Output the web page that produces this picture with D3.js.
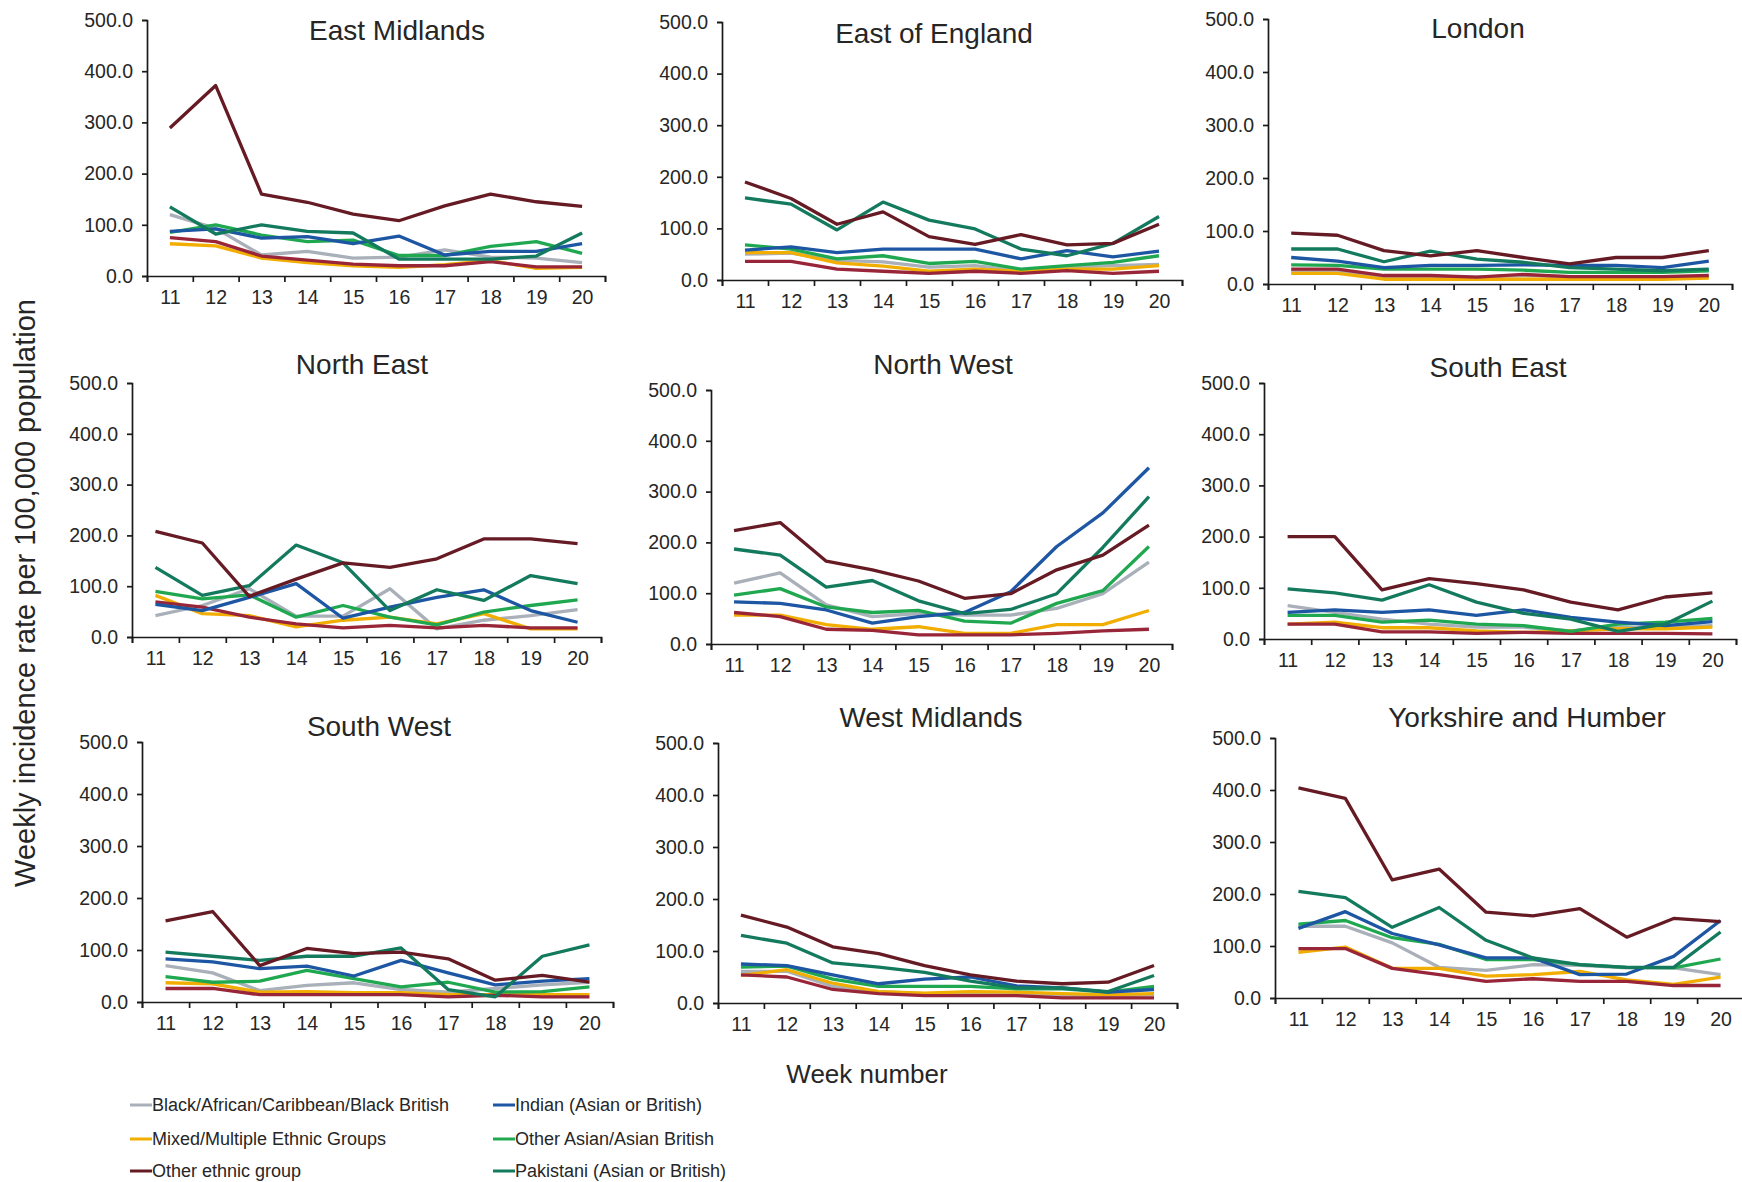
<!DOCTYPE html>
<html>
<head>
<meta charset="utf-8">
<script src="https://cdn.jsdelivr.net/npm/d3@7"></script>
<style>
	body { margin: 0; background: #fff; }
	svg { display: block; font-family: "Liberation Sans", Arial, sans-serif; }
</style>
</head>
<body>
<div id="chart"></div>
<script>
const weeks = [11, 12, 13, 14, 15, 16, 17, 18, 19, 20];
const yTicks = [0, 100, 200, 300, 400, 500];

// series order used by every region array below
const seriesNames = [
	"Black/African/Caribbean/Black British",
	"Indian (Asian or British)",
	"Mixed/Multiple Ethnic Groups",
	"Other Asian/Asian British",
	"Other ethnic group",
	"Pakistani (Asian or British)",
	"White"
];
const seriesColors = ["#a9b0b9", "#1d56a3", "#f2ae00", "#20a851", "#661a23", "#137a5d", "#992638"];
const legendNames = seriesNames.slice(0, 6);
const drawOrder = [0, 2, 6, 3, 1, 5, 4];

const regionNames = ["East Midlands", "East of England", "London", "North East", "North West",
	"South East", "South West", "West Midlands", "Yorkshire and Humber"];

const eastMidlands = [
	[120, 93, 41, 48, 35, 37, 51, 37, 35, 26],
	[87, 92, 74, 77, 63, 78, 41, 48, 48, 63],
	[63, 59, 35, 26, 20, 17, 22, 30, 15, 17],
	[85, 100, 80, 67, 70, 40, 40, 58, 67, 44],
	[289, 372, 160, 144, 121, 108, 137, 160, 145, 136],
	[135, 82, 100, 87, 84, 33, 33, 33, 39, 84],
	[75, 67, 39, 31, 23, 20, 20, 28, 18, 18]
];
const eastOfEngland = [
	[50, 52, 38, 35, 25, 28, 18, 25, 28, 30],
	[58, 64, 53, 60, 60, 60, 41, 57, 45, 56],
	[53, 53, 33, 27, 17, 21, 17, 21, 21, 28],
	[68, 60, 41, 47, 32, 36, 21, 28, 34, 47],
	[190, 158, 108, 132, 84, 69, 88, 68, 71, 108],
	[159, 147, 97, 151, 116, 99, 60, 47, 71, 123],
	[36, 36, 21, 17, 13, 17, 13, 18, 13, 17]
];
const london = [
	[24, 24, 14, 14, 13, 16, 14, 14, 13, 14],
	[50, 43, 31, 35, 35, 36, 35, 35, 31, 43],
	[20, 20, 9, 9, 9, 9, 9, 9, 9, 11],
	[36, 35, 28, 28, 28, 26, 22, 22, 22, 25],
	[96, 92, 63, 53, 63, 50, 38, 50, 50, 63],
	[66, 66, 42, 62, 47, 41, 31, 28, 25, 28],
	[28, 28, 16, 16, 13, 18, 14, 14, 14, 16]
];
const northEast = [
	[42, 62, 95, 41, 41, 95, 16, 33, 42, 54],
	[64, 52, 78, 105, 37, 59, 78, 93, 52, 29],
	[82, 46, 42, 20, 33, 39, 26, 46, 16, 16],
	[90, 75, 83, 39, 62, 39, 24, 49, 62, 73],
	[208, 185, 80, 114, 146, 137, 154, 193, 193, 184],
	[137, 82, 101, 181, 146, 52, 93, 72, 121, 105],
	[69, 59, 39, 26, 18, 23, 18, 23, 18, 18]
];
const northWest = [
	[120, 140, 77, 54, 60, 57, 57, 70, 99, 161],
	[83, 80, 67, 41, 54, 62, 103, 192, 258, 347],
	[57, 57, 38, 29, 34, 21, 21, 38, 38, 66],
	[96, 109, 73, 62, 66, 45, 41, 80, 105, 192],
	[223, 239, 163, 146, 124, 90, 99, 146, 175, 234],
	[187, 175, 112, 125, 85, 60, 68, 99, 190, 290],
	[62, 54, 29, 27, 18, 18, 18, 21, 26, 29]
];
const southEast = [
	[65, 52, 39, 29, 23, 23, 16, 23, 23, 26],
	[52, 57, 52, 57, 46, 57, 42, 33, 26, 34],
	[29, 33, 22, 22, 16, 13, 16, 20, 20, 23],
	[46, 46, 33, 37, 29, 26, 15, 29, 33, 40],
	[200, 200, 96, 118, 108, 96, 72, 57, 82, 90],
	[98, 90, 76, 106, 72, 50, 39, 15, 29, 74],
	[29, 29, 14, 14, 11, 13, 11, 11, 11, 10]
];
const southWest = [
	[70, 56, 22, 32, 37, 24, 19, 26, 33, 38],
	[83, 77, 64, 69, 50, 80, 56, 33, 40, 45],
	[37, 35, 19, 20, 18, 18, 14, 14, 14, 14],
	[49, 38, 40, 61, 45, 29, 38, 19, 20, 29],
	[156, 174, 70, 103, 93, 96, 83, 42, 51, 38],
	[96, 88, 80, 88, 88, 104, 24, 10, 88, 110],
	[26, 26, 14, 14, 14, 14, 10, 13, 10, 10]
];
const westMidlands = [
	[61, 61, 32, 22, 18, 18, 16, 14, 13, 16],
	[75, 72, 54, 37, 46, 50, 33, 29, 21, 26],
	[53, 64, 38, 22, 19, 22, 21, 18, 16, 18],
	[69, 71, 46, 32, 32, 32, 27, 27, 21, 32],
	[169, 146, 108, 95, 72, 54, 42, 37, 40, 72],
	[130, 115, 77, 69, 59, 42, 29, 29, 22, 53],
	[54, 50, 26, 18, 14, 14, 14, 10, 10, 10]
];
const yorkshireHumber = [
	[138, 138, 106, 59, 53, 64, 63, 58, 58, 45],
	[134, 166, 124, 102, 77, 77, 45, 46, 80, 149],
	[88, 98, 57, 57, 42, 45, 51, 35, 26, 40],
	[142, 149, 116, 103, 74, 74, 64, 59, 58, 75],
	[404, 384, 227, 248, 165, 158, 172, 117, 153, 147],
	[205, 193, 136, 174, 111, 77, 64, 59, 59, 127],
	[95, 95, 57, 45, 32, 37, 32, 32, 24, 24]
];
const regionValues = [eastMidlands, eastOfEngland, london, northEast, northWest,
	southEast, southWest, westMidlands, yorkshireHumber];

// panel boxes in page pixels: plot left/right, y of 500 and of 0, title centre
const panelLayout = [
	{ left: 147, right: 605, top: 20, bottom: 276, tx: 397, ty: 30 },
	{ left: 722, right: 1182, top: 22, bottom: 280, tx: 934, ty: 33 },
	{ left: 1268, right: 1732, top: 19, bottom: 284, tx: 1478, ty: 28 },
	{ left: 132, right: 601, top: 383, bottom: 637, tx: 362, ty: 364 },
	{ left: 711, right: 1172, top: 390, bottom: 644, tx: 943, ty: 364 },
	{ left: 1264, right: 1736, top: 383, bottom: 639, tx: 1498, ty: 367 },
	{ left: 142, right: 613, top: 742, bottom: 1002, tx: 379, ty: 726 },
	{ left: 718, right: 1177, top: 743, bottom: 1003, tx: 931, ty: 717 },
	{ left: 1275, right: 1744, top: 738, bottom: 998, tx: 1527, ty: 717 }
];

const width = 1742, height = 1182;
const textColor = "#262626";

const svg = d3.select("#chart").append("svg")
	.attr("width", width)
	.attr("height", height);

function drawPanel(i) {
	const box = panelLayout[i];
	const values = regionValues[i];
	const g = svg.append("g");

	const xScale = d3.scaleLinear()
		.domain([weeks[0] - 0.5, weeks[weeks.length - 1] + 0.5])
		.range([box.left, box.right]);

	const yScale = d3.scaleLinear()
		.domain([0, 500])
		.range([box.bottom, box.top]);

	// tick marks sit between the weeks
	g.append("g")
		.attr("transform", `translate(0,${box.bottom})`)
		.call(d3.axisBottom(xScale)
			.tickValues(d3.range(weeks[0] - 0.5, weeks[weeks.length - 1] + 1, 1))
			.tickFormat("")
			.tickSize(6));

	// week labels centred on each category
	const xLabels = g.append("g")
		.attr("transform", `translate(0,${box.bottom})`)
		.call(d3.axisBottom(xScale)
			.tickValues(weeks)
			.tickFormat(d3.format("d"))
			.tickSize(0)
			.tickPadding(14));
	xLabels.select(".domain").remove();

	g.append("g")
		.attr("transform", `translate(${box.left},0)`)
		.call(d3.axisLeft(yScale)
			.tickValues(yTicks)
			.tickFormat(d3.format(".1f"))
			.tickSizeOuter(0)
			.tickSize(5)
			.tickPadding(9));

	g.selectAll(".domain, .tick line")
		.attr("stroke", "#1a1a1a")
		.attr("stroke-width", 1.7);
	g.selectAll(".tick text")
		.attr("fill", textColor)
		.attr("font-size", "19.5px")
		.attr("font-family", "\"Liberation Sans\", Arial, sans-serif");

	const line = d3.line()
		.x((d, k) => xScale(weeks[k]))
		.y(d => yScale(d));

	g.selectAll("path.series")
		.data(drawOrder)
		.join("path")
		.attr("class", "series")
		.attr("d", s => line(values[s]))
		.attr("fill", "none")
		.attr("stroke", s => seriesColors[s])
		.attr("stroke-width", 3.3)
		.attr("stroke-linejoin", "round");

	g.append("text")
		.attr("x", box.tx)
		.attr("y", box.ty)
		.attr("text-anchor", "middle")
		.attr("dominant-baseline", "central")
		.attr("font-size", "28px")
		.attr("fill", textColor)
		.text(regionNames[i]);
}

regionNames.forEach((name, i) => drawPanel(i));

// Axis titles
svg.append("text")
	.attr("transform", "translate(25,593) rotate(-90)")
	.attr("text-anchor", "middle")
	.attr("dominant-baseline", "central")
	.attr("font-size", "29px")
	.attr("fill", textColor)
	.text("Weekly incidence rate per 100,000 population");

svg.append("text")
	.attr("x", 867)
	.attr("y", 1074)
	.attr("text-anchor", "middle")
	.attr("dominant-baseline", "central")
	.attr("font-size", "26px")
	.attr("fill", textColor)
	.text("Week number");

// Legend, two columns
const legendCols = [130, 493];
const legendRows = [1105, 1139, 1171];

const legendItems = svg.selectAll("g.legend")
	.data(legendNames)
	.join("g")
	.attr("class", "legend")
	.attr("transform", (d, i) => `translate(${legendCols[i % 2]},${legendRows[Math.floor(i / 2)]})`);

legendItems.append("line")
	.attr("x1", 0)
	.attr("x2", 22)
	.attr("stroke", (d, i) => seriesColors[i])
	.attr("stroke-width", 3);

legendItems.append("text")
	.attr("x", 22)
	.attr("dominant-baseline", "central")
	.attr("font-size", "18px")
	.attr("fill", textColor)
	.text(d => d);
</script>
</body>
</html>
